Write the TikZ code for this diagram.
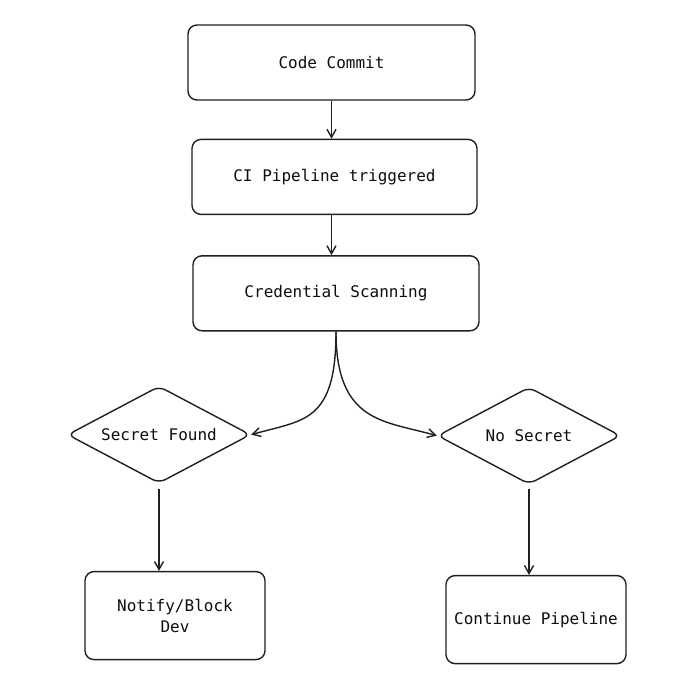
\documentclass[tikz,border=0pt]{standalone}
\usepackage{fontspec}
\setmonofont{DejaVu Sans Mono}
\usetikzlibrary{arrows.meta,positioning,shapes.geometric}

\begin{document}
\begin{tikzpicture}[
        x=1pt, y=-1pt,
        line width=1.4pt,
        every node/.style={font=\ttfamily\fontsize{16}{21}\selectfont, text=black!95},
        caja/.style={draw=black!88, rounded corners=9pt, align=center, inner sep=4pt, minimum height=75pt},
        rombo/.style={draw=black!88, diamond, rounded corners=7pt, aspect=1.9, inner sep=0pt, minimum width=183pt, minimum height=97pt},
        flecha/.style={-{Straight Barb[length=8pt, width=9pt]}, draw=black!88}
    ]
        \useasboundingbox (0,0) rectangle (690,699);

        \node[caja, minimum width=287pt] (commit) at (331.5,62.5) {Code Commit};
        \node[caja, minimum width=285pt, below=38pt of commit, xshift=3pt] (ci) {CI Pipeline triggered};
        \node[caja, minimum width=286pt, below=40pt of ci, xshift=1.5pt] (scan) {Credential Scanning};

        \node[rombo, below=54pt of scan, xshift=-177pt] (secret) {Secret Found};
        \node[rombo, below=55pt of scan, xshift=193pt] (nosecret) {No Secret};

        \node[caja, minimum width=180pt, minimum height=88pt, below=87pt of secret, xshift=16pt] (notify) {Notify/Block\\Dev};
        \node[caja, minimum width=180pt, minimum height=88pt, below=90pt of nosecret, xshift=7pt] (cont) {Continue Pipeline};

        \draw[flecha] (commit.south) -- (commit.south |- ci.north);
        \draw[flecha] (ci.south -| commit.south) -- (commit.south |- scan.north);
        \draw[flecha] (scan.south) .. controls +(0,92) and +(52,-15) .. (secret.east);
        \draw[flecha] (scan.south) .. controls +(0,92) and +(-52,-15) .. (nosecret.west);
        \draw[flecha, shorten <=5pt] (secret.south) -- (secret.south |- notify.north);
        \draw[flecha, shorten <=4pt] (nosecret.south) -- (nosecret.south |- cont.north);
    \end{tikzpicture}
\end{document}
